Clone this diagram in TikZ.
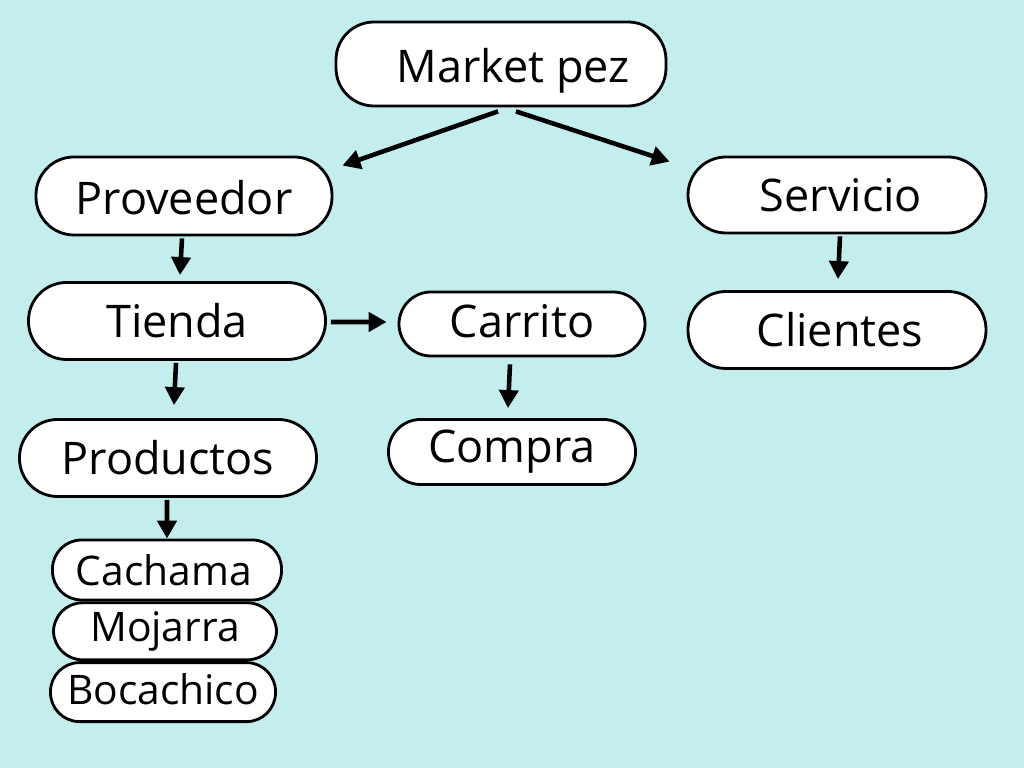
\documentclass[tikz,border=0pt]{standalone}
\usepackage{fontspec}
\setmainfont{Open Sans}
\usepackage{xcolor}
\usetikzlibrary{arrows.meta,positioning}
\definecolor{bgcyan}{HTML}{C4EDED}
\newcommand{\lowerby}[2]{\raisebox{-#1}[\height][\depth]{#2}}
\tikzset{
    pillBox/.style={
        draw,
        line width=0.8pt,
        fill=white,
        rounded corners=3.8mm,
        align=center,
        inner sep=0pt,
        font=\fontsize{12.8}{15}\selectfont
    },
    pillSmall/.style={
        draw,
        line width=0.8pt,
        fill=white,
        rounded corners=2.9mm,
        align=center,
        inner sep=0pt,
        font=\fontsize{11.6}{14}\selectfont
    },
    flowArrow/.style={
        -{Triangle[length=1.8mm,width=1.9mm]},
        line width=1.3pt
    }
}
\begin{document}
\begin{tikzpicture}
        \fill[bgcyan] (0,0) rectangle (10.24,7.68);
        \useasboundingbox (0,0) rectangle (10.24,7.68);

        \node[pillBox,minimum width=3.30cm,minimum height=8.4mm] (market) at (5.01,7.04) {\hspace*{2.4mm}\lowerby{0.7mm}{Market pez}};
        \node[pillBox,minimum width=2.96cm,minimum height=7.8mm] (proveedor) at (1.84,5.72) {\lowerby{0.2mm}{Proveedor}};
        \node[pillBox,minimum width=2.98cm,minimum height=7.6mm] (servicio) at (8.37,5.73) {\hspace*{0.8mm}Servicio};
        \node[pillBox,minimum width=2.97cm,minimum height=7.7mm] (tienda) at (1.77,4.47) {Tienda};
        \node[pillBox,minimum width=2.46cm,minimum height=6.4mm,rounded corners=3.2mm] (carrito) at (5.22,4.44) {\lowerby{-0.3mm}{Carrito}};
        \node[pillBox,minimum width=2.98cm,minimum height=7.7mm] (clientes) at (8.37,4.38) {\hspace*{0.6mm}Clientes};
        \node[pillBox,minimum width=2.97cm,minimum height=7.7mm] (productos) at (1.68,3.10) {Productos};
        \node[pillBox,minimum width=2.47cm,minimum height=6.5mm,rounded corners=3.2mm] (compra) at (5.12,3.16) {Compra};

        \node[pillSmall,minimum width=2.29cm,minimum height=6.0mm] (cachama) at (1.67,1.98) {\hspace*{-0.6mm}Cachama};
        \node[pillSmall,minimum width=2.23cm,minimum height=5.7mm,below=0mm of cachama,xshift=-0.2mm] (mojarra) {Mojarra};
        \node[pillSmall,minimum width=2.25cm,minimum height=5.9mm,below=0mm of mojarra,xshift=-0.2mm] (bocachico) {\lowerby{-0.3mm}{Bocachico}};

        \draw[flowArrow] ([xshift=-0.3mm,yshift=-0.4mm]market.south) -- ([xshift=0.9mm,yshift=-1.0mm]proveedor.north east);
        \draw[flowArrow] ([xshift=1.5mm,yshift=-0.4mm]market.south) -- ([xshift=-1.7mm,yshift=-0.6mm]servicio.north west);
        \draw[flowArrow] ([xshift=-0.2mm,yshift=-0.2mm]proveedor.south) -- ([xshift=0.3mm,yshift=0.6mm]tienda.north);
        \draw[flowArrow] ([xshift=0.3mm,yshift=-0.2mm]servicio.south) -- ([xshift=0.1mm,yshift=1.1mm]clientes.north);
        \draw[flowArrow] ([xshift=0.4mm,yshift=-0.1mm]tienda.east) -- ([xshift=-1.1mm,yshift=0.2mm]carrito.west);
        \draw[flowArrow] ([xshift=-0.1mm,yshift=-0.2mm]tienda.south) -- ([xshift=0.6mm,yshift=1.3mm]productos.north);
        \draw[flowArrow] ([xshift=-1.2mm,yshift=-0.7mm]carrito.south) -- ([xshift=-0.4mm,yshift=1.0mm]compra.north);
        \draw[flowArrow] ([xshift=-0.1mm,yshift=-0.2mm]productos.south) -- (cachama.north);
    \end{tikzpicture}
\end{document}
